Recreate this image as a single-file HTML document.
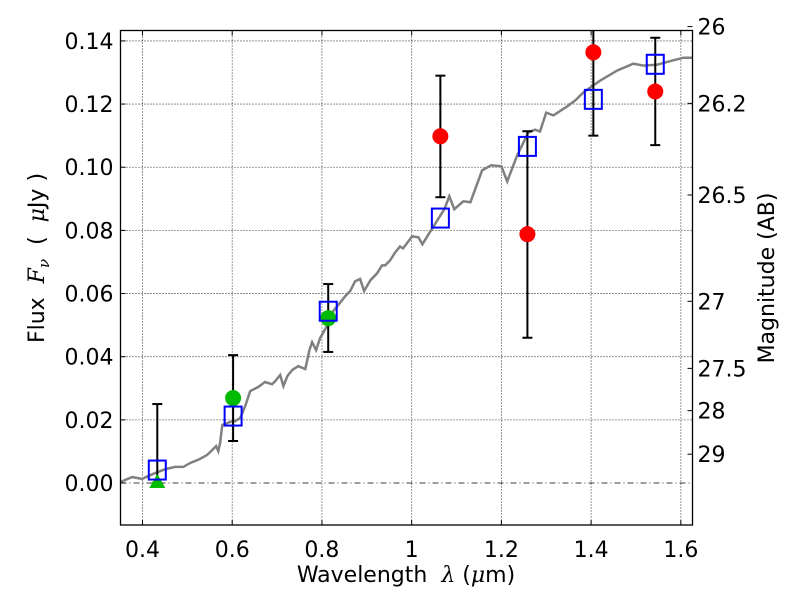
<!DOCTYPE html>
<html><head><meta charset="utf-8"><style>
html,body{margin:0;padding:0;background:#fff;}
svg{display:block;font-family:"DejaVu Sans","Liberation Sans",sans-serif;}
</style></head><body>
<svg id="chart" width="800" height="600" viewBox="0 0 800 600">
<g id="grid"></g>
<g id="spec"></g>
<g id="marks"></g>
<g id="axes"></g>
<text x="406" y="582" font-size="22" text-anchor="middle" xml:space="preserve">Wavelength  <tspan font-family="DejaVu Serif, serif" font-style="italic">λ</tspan> (<tspan font-family="DejaVu Serif, serif" font-style="italic">μ</tspan>m)</text>
<text x="0" y="0" font-size="22" text-anchor="middle" xml:space="preserve" transform="translate(44,258) rotate(-90)">Flux  <tspan font-family="DejaVu Serif, serif" font-style="italic">F</tspan><tspan font-family="DejaVu Serif, serif" font-style="italic" font-size="15" dy="5">ν</tspan><tspan dy="-5">  (  </tspan><tspan font-family="DejaVu Serif, serif" font-style="italic">μ</tspan>Jy )</text>
<text x="0" y="0" font-size="22" text-anchor="middle" transform="translate(774,278) rotate(-90)">Magnitude (AB)</text>
</svg>
<script>
const xTicks=[0.4,0.6,0.8,1.0,1.2,1.4,1.6];
const xTickLabels=["0.4","0.6","0.8","1","1.2","1.4","1.6"];
const yTicks=[0,0.02,0.04,0.06,0.08,0.10,0.12,0.14];
const yTickLabels=["0.00","0.02","0.04","0.06","0.08","0.10","0.12","0.14"];
const magTicks=[26,26.2,26.5,27,27.5,28,29];
const magTickLabels=["26","26.2","26.5","27","27.5","28","29"];
const specX=[0.350,0.377,0.399,0.422,0.451,0.473,0.491,0.506,0.528,0.544,0.551,0.558,0.564,0.569,0.573,0.578,0.584,0.600,0.607,0.618,0.629,0.640,0.658,0.673,0.689,0.696,0.707,0.714,0.723,0.734,0.747,0.763,0.772,0.778,0.787,0.796,0.810,0.823,0.836,0.852,0.863,0.874,0.885,0.894,0.908,0.923,0.934,0.941,0.952,0.963,0.974,0.981,1.001,1.015,1.024,1.046,1.073,1.084,1.095,1.115,1.131,1.157,1.177,1.200,1.213,1.235,1.260,1.275,1.286,1.300,1.316,1.347,1.365,1.383,1.421,1.458,1.494,1.517,1.548,1.579,1.606,1.626];
const specY=[0.0003,0.0019,0.0013,0.0028,0.0044,0.0051,0.0051,0.0063,0.0076,0.0089,0.0098,0.0108,0.0117,0.0101,0.0127,0.0184,0.0187,0.0196,0.0196,0.0206,0.0244,0.0291,0.0304,0.0320,0.0313,0.0323,0.0342,0.0307,0.0339,0.0358,0.0370,0.0361,0.0421,0.0446,0.0421,0.0459,0.0494,0.0541,0.0563,0.0592,0.0608,0.0639,0.0646,0.0608,0.0642,0.0664,0.0689,0.0689,0.0705,0.0730,0.0749,0.0743,0.0781,0.0778,0.0756,0.0807,0.0867,0.0908,0.0867,0.0892,0.0889,0.0990,0.1006,0.1003,0.0955,0.1037,0.1110,0.1119,0.1113,0.1173,0.1164,0.1193,0.1212,0.1237,0.1275,0.1306,0.1328,0.1322,0.1325,0.1337,0.1347,0.1347];
const bandX=[0.433,0.602,0.814,1.064,1.258,1.405,1.543];
const modelFlux=[0.0041,0.0212,0.0544,0.0839,0.1066,0.1215,0.1326];
const errLo=[0.0,0.0133,0.0415,0.0905,0.046,0.110,0.107];
const errHi=[0.025,0.0405,0.063,0.129,0.1114,0.145,0.141];
const greenX=[0.602,0.814];
const greenFlux=[0.0269,0.0522];
const triX=[0.433];
const triFlux=[0.0];
const redX=[1.064,1.258,1.405,1.543];
const redFlux=[0.1098,0.0788,0.1364,0.124];

const L=120.5,R=692.5,T=30.5,B=525;
const xmin=0.351,xmax=1.626,ymin=-0.0133,ymax=0.1433;
const sx=v=>L+(v-xmin)/(xmax-xmin)*(R-L);
const sy=v=>B-(v-ymin)/(ymax-ymin)*(B-T);
const sm=m=>sy(Math.pow(10,(23.9-m)/2.5));
const NS="http://www.w3.org/2000/svg";
function mk(tag,attrs,parent){const e=document.createElementNS(NS,tag);for(const k in attrs)e.setAttribute(k,attrs[k]);parent.appendChild(e);return e;}
const grid=document.getElementById('grid'),spec=document.getElementById('spec'),marks=document.getElementById('marks'),axes=document.getElementById('axes');

xTicks.forEach((t,i)=>{const x=sx(t);
 let g=mk('line',{x1:x,x2:x,y1:T,y2:B,stroke:'#000','stroke-width':0.8,'stroke-dasharray':'1,2'},grid);
 
 
 mk('line',{x1:x,x2:x,y1:B,y2:B-5,stroke:'#000'},axes);
 mk('line',{x1:x,x2:x,y1:T,y2:T+5,stroke:'#000'},axes);
 let tx=mk('text',{x:x,y:B+32,'font-size':22,'text-anchor':'middle'},axes);tx.textContent=xTickLabels[i];
 
 });
yTicks.forEach((t,i)=>{const y=sy(t);
 let g=mk('line',{x1:L,x2:R,y1:y,y2:y,stroke:'#000','stroke-width':0.8,'stroke-dasharray':t===0?'6,3,1,3':'1,2'},grid);
 
 
 mk('line',{x1:L,x2:L+5,y1:y,y2:y,stroke:'#000'},axes);
 let tx=mk('text',{x:L-7,y:y+8,'font-size':22,'text-anchor':'end'},axes);tx.textContent=yTickLabels[i];
 
 });
magTicks.forEach((m,i)=>{const y=sm(m);
 mk('line',{x1:R,x2:R-5,y1:y,y2:y,stroke:'#000'},axes);
 let tx=mk('text',{x:R+5,y:y+8,'font-size':22},axes);tx.textContent=magTickLabels[i];
 
 });

let d=specX.map((x,i)=>(i?'L':'M')+sx(x).toFixed(1)+','+sy(specY[i]).toFixed(1)).join(' ');
let p=mk('path',{d:d,fill:'none',stroke:'#808080','stroke-width':2.5},spec);



bandX.forEach((b,i)=>{const x=sx(b),y1=sy(errLo[i]),y2=sy(Math.min(errHi[i],ymax));
 let e=mk('line',{x1:x,x2:x,y1:y1,y2:y2,stroke:'#000','stroke-width':2},marks);
 
 
 mk('line',{x1:x-5,x2:x+5,y1:y1,y2:y1,stroke:'#000','stroke-width':2},marks);
 if(errHi[i]<ymax)mk('line',{x1:x-5,x2:x+5,y1:y2,y2:y2,stroke:'#000','stroke-width':2},marks);});
triX.forEach((b,i)=>{const x=sx(b),y=sy(triFlux[i]);
 let t=mk('polygon',{points:`${x},${y-9} ${x-8},${y+5} ${x+8},${y+5}`,fill:'#00bb00'},marks);
 
 });
greenX.forEach((b,i)=>{let c=mk('circle',{cx:sx(b),cy:sy(greenFlux[i]),r:8,fill:'#00bb00'},marks);
 
 });
redX.forEach((b,i)=>{let c=mk('circle',{cx:sx(b),cy:sy(redFlux[i]),r:8,fill:'#ff0000'},marks);
 
 });
bandX.forEach((b,i)=>{let s=mk('rect',{x:sx(b)-8.5,y:sy(modelFlux[i])-9.5,width:17,height:19,fill:'none',stroke:'#0000ff','stroke-width':2},marks);
 
 });

let fr=mk('rect',{x:L,y:T,width:R-L,height:B-T,fill:'none',stroke:'#000','stroke-width':1.3},axes);


</script>
</body></html>
